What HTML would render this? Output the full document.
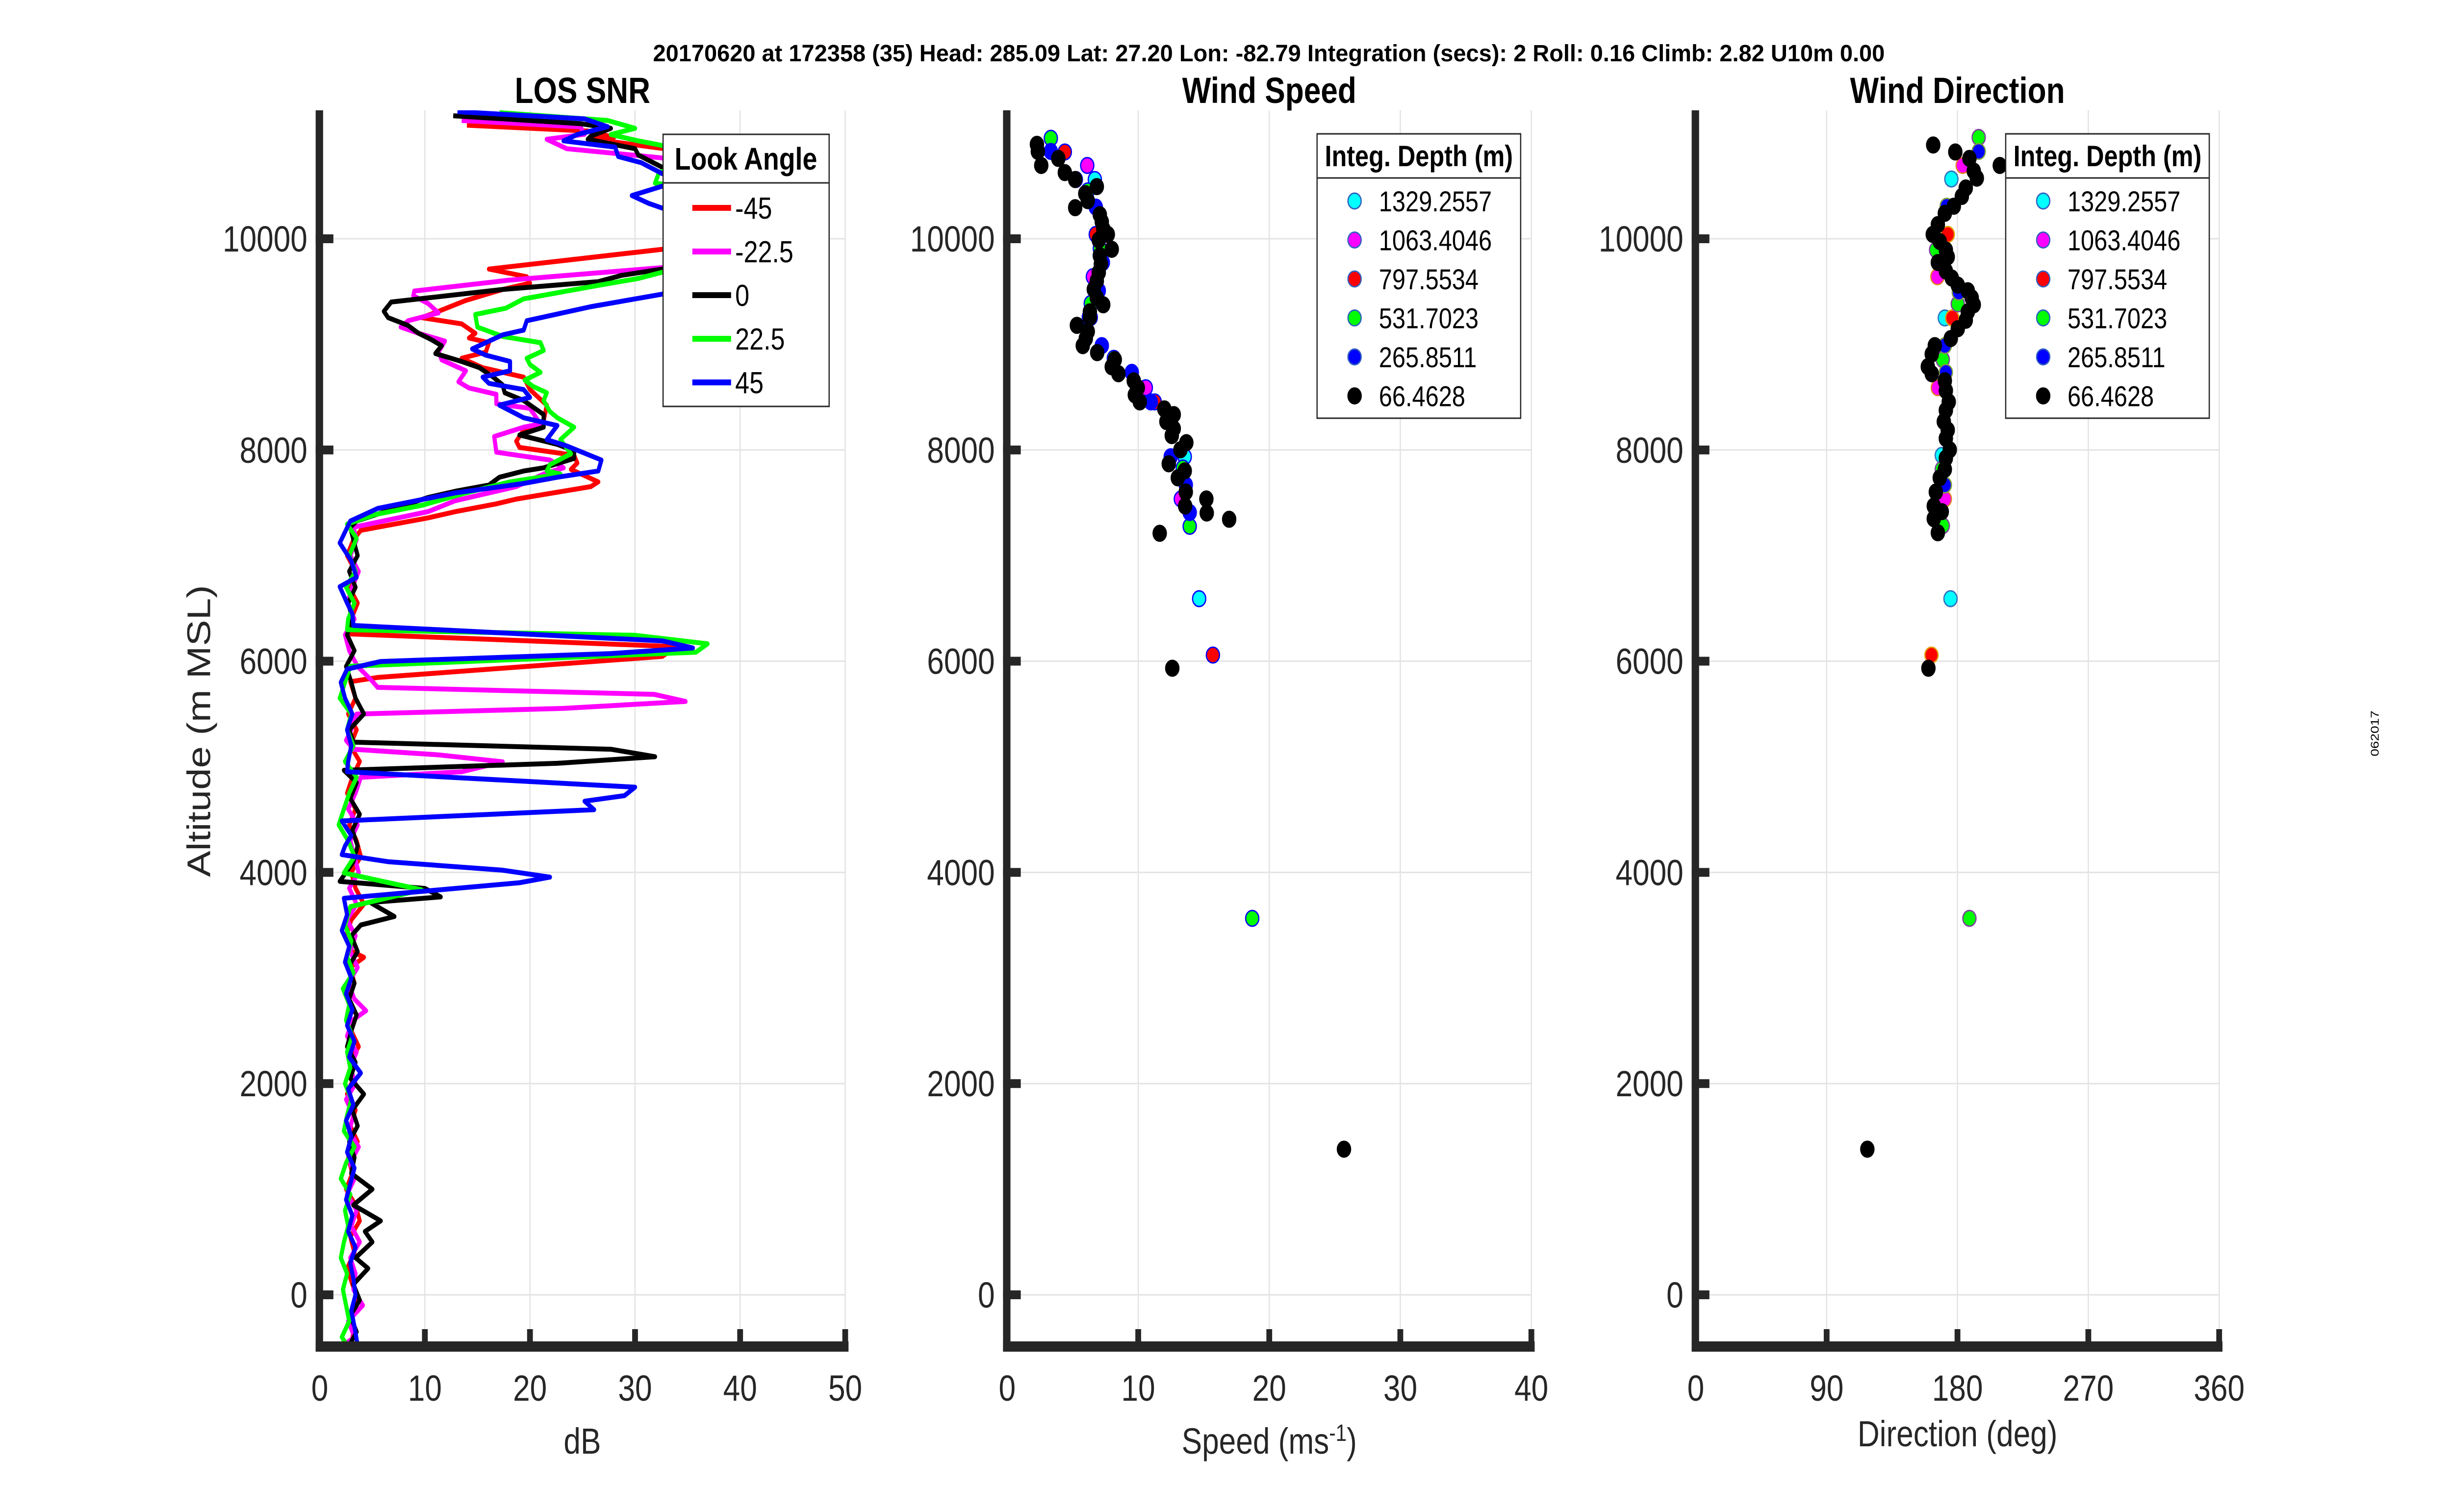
<!DOCTYPE html>
<html><head><meta charset="utf-8"><style>
html,body{margin:0;padding:0;background:#fff;width:100%;height:100%;overflow:hidden;}
svg{display:block;font-family:"Liberation Sans",Arial,sans-serif;width:100vw;height:100vh;}
</style></head><body>
<svg id="fig" viewBox="0 0 5950 3084" preserveAspectRatio="none" xmlns="http://www.w3.org/2000/svg">
<rect width="5950" height="3084" fill="#fff"/>
<text x="3079" y="125" text-anchor="middle" font-size="48" font-weight="bold" textLength="2989" lengthAdjust="spacingAndGlyphs">20170620 at 172358 (35)  Head: 285.09  Lat: 27.20  Lon: -82.79  Integration (secs): 2  Roll: 0.16  Climb: 2.82  U10m 0.00</text>
<text x="5772" y="1496" font-size="28" text-anchor="middle" transform="rotate(-90 5772 1496)">062017</text>
</svg>
<script>
// ---------- SNR data (altitude m, dB) ----------
const redAlt=[11075,11020,10960,10945,10850,10600,10100,9900,9713,9640,9580,9520,9416,9313,9253,9194,9105,9060,9016,8927,8868,8779,8690,8572,8424,8276,8187,8083,8024,7950,7876,7816,7698,7653,7535,7490,7416,7357,7239,7150,7000,6850,6700,6550,6400,6258,6138,6045,5846,5806,5650,5500,5350,5200,5050,4900,4750,4600,4450,4300,4150,4000,3850,3700,3550,3400,3250,3196,3100,2950,2800,2650,2500,2350,2200,2050,1900,1750,1600,1450,1300,1150,1000,850,700,550,400,250,100,-50,-200,-350,-480];
const redDb=[14.0,25.5,28,25.8,33,40,40,32.6,16.1,19.7,20,17.4,13.9,11.3,9.7,13.5,14.8,14.2,16.1,15.8,13.5,15.5,19.4,20,21.6,21.3,19.4,18.7,19,24.2,24.5,23.9,26.5,25.8,18.7,16.8,12.9,10.3,3.9,3.2,2.6,3.4,2.8,3.6,3.0,2.9,33.9,32.6,5.5,2.9,3.4,2.7,3.5,2.9,3.8,3.1,2.6,3.4,2.8,3.5,3.9,3.0,3.4,4.2,3.0,2.5,3.1,4.2,2.9,3.3,2.6,3.5,3.0,3.7,2.8,3.2,2.6,3.4,2.9,3.6,2.7,3.1,2.5,3.4,3.8,2.9,3.3,2.6,3.1,3.6,2.8,3.2,3.0];
const magAlt=[11120,11060,10990,10942,10853,10765,10500,9800,9727,9609,9505,9461,9387,9298,9224,9164,9105,9031,8927,8853,8750,8646,8587,8527,8438,8394,8246,8216,8127,7979,7905,7831,7772,7653,7520,7416,7268,7150,7000,6850,6700,6550,6400,6250,6100,5950,5832,5752,5686,5619,5553,5499,5350,5250,5166,5113,5047,4953,4900,4750,4600,4450,4300,4150,4000,3850,3700,3550,3400,3250,3100,2950,2800,2690,2600,2450,2300,2150,2000,1850,1700,1550,1400,1250,1100,950,800,650,500,350,200,50,-100,-250,-400,-480];
const magDb=[13.5,24.8,25.2,21.6,23.5,32.6,40,40,32.6,18.1,9.0,8.9,10.3,11.3,8.4,7.7,9.4,11.9,11.3,11.6,13.9,13.2,14.2,16.8,16.8,20,21,19.4,16.6,16.8,21.9,23.2,21.3,18.7,12.9,10.3,3.2,3.5,2.9,3.7,3.1,2.6,3.3,2.4,2.8,3.6,4.8,5.5,31.8,34.8,23.2,3.5,3.0,2.5,3.2,11.3,17.4,13.5,3.9,3.4,2.7,3.6,2.9,3.3,3.7,2.8,3.5,2.6,3.4,2.9,3.6,2.7,3.3,4.4,3.1,2.6,3.5,2.9,3.4,2.5,3.2,2.8,3.7,2.9,3.3,2.6,3.5,3.0,3.8,2.9,3.4,3.2,4.1,2.7,3.3,2.2];
const blkAlt=[11165,11090,11046,10972,10942,10853,10794,10676,10400,9800,9713,9653,9594,9520,9401,9313,9253,9179,9105,9046,8987,8913,8838,8779,8690,8616,8542,8468,8335,8216,8142,8053,7994,7920,7831,7801,7742,7668,7609,7550,7327,7268,7150,7000,6850,6700,6550,6400,6250,6100,5950,5800,5650,5500,5350,5233,5166,5095,5033,4967,4850,4700,4550,4400,4250,4100,3915,3848,3768,3715,3582,3502,3400,3250,3100,2950,2800,2650,2500,2350,2200,2050,1900,1750,1600,1450,1300,1150,1000,850,700,600,500,350,250,100,-50,-200,-350,-480];
const blkDb=[12.7,24.8,27.7,25.8,25.5,30,30.3,32.6,40,40,32.6,28.7,26.5,17.4,6.8,6.1,6.5,8.4,9.4,10.6,11.6,11,13.5,15.2,16.5,17.4,17.6,19.4,21.3,21.3,19,22.6,24.2,24.2,21.3,19.4,17.1,16.1,12.9,10.3,3.5,2.9,3.2,3.6,2.8,3.4,2.7,3.1,2.6,3.3,2.5,3.0,3.4,4.2,2.8,3.2,27.7,31.9,22.6,2.3,3.5,2.9,3.8,3.1,3.6,3.2,1.9,10,11.5,4.8,7.1,3.9,3.0,3.6,2.7,3.3,2.8,3.5,3.0,2.6,3.4,2.9,4.2,3.1,3.6,2.8,3.3,3.0,5.0,3.2,5.8,4.3,5.0,3.4,4.6,3.2,3.8,2.9,3.5,2.8];
const grnAlt=[11194,11120,11046,10987,10927,10883,10750,10631,10527,10450,10300,9800,9683,9624,9564,9431,9342,9283,9164,9075,9016,8942,8868,8809,8735,8661,8601,8542,8468,8364,8305,8216,8098,7964,7861,7801,7772,7698,7594,7476,7387,7298,7164,7000,6850,6700,6550,6400,6298,6245,6165,6085,5952,5800,5650,5500,5350,5200,5050,4900,4750,4600,4450,4300,4150,3995,3835,3675,3500,3350,3200,3050,2900,2750,2600,2450,2300,2150,2000,1850,1700,1550,1400,1250,1100,950,800,650,500,350,200,50,-100,-250,-400,-480];
const grnDb=[17.1,27.4,30,27.7,30.3,32.6,38,32.3,31.9,38,40,40,32.6,30.3,26.8,19.4,17.7,14.8,15,17.4,21,21.3,19.7,20,21,19.5,20.3,21.6,21.3,21.9,22.6,24.2,22.9,23.9,21.9,21.6,22.9,18.1,13.9,9.7,5.2,2.6,3.5,2.8,3.4,2.5,3.3,2.7,2.6,30,36.9,35.8,2.9,2.4,1.9,3.0,2.6,3.2,2.4,3.5,2.8,2.3,1.8,2.7,3.3,2.3,9.7,2.9,2.4,3.0,2.6,3.2,2.2,2.8,2.5,3.1,2.6,2.9,2.4,3.0,2.6,2.3,3.3,2.5,2.0,2.9,2.4,2.7,2.3,2.0,2.6,2.2,2.5,2.8,2.1,2.6];
const bluAlt=[11203,11135,11061,10987,10927,10868,10779,10720,10616,10550,10498,10409,10335,10290,10100,9800,9476,9357,9224,9135,9090,8957,8898,8838,8750,8690,8631,8572,8498,8424,8305,8231,8098,8038,7905,7801,7742,7683,7594,7446,7327,7120,6950,6794,6705,6550,6450,6338,6192,6125,6072,5997,5925,5800,5650,5500,5350,5200,5050,4953,4807,4727,4674,4594,4487,4350,4250,4168,4101,4021,3955,3902,3755,3600,3450,3300,3150,3000,2850,2700,2550,2400,2250,2100,1950,1800,1650,1500,1350,1200,1050,900,750,600,450,300,150,0,-150,-300,-480];
const bluDb=[13.1,25.2,27.4,24.5,23.2,28.1,28.4,30.6,32.6,36,32.6,29.7,31.3,32.6,40,40,32.6,25.8,19.7,19.4,17.4,14.5,15.8,18.1,18.1,15.5,16.1,19.4,20,17.1,19.4,22.6,21.6,23.5,26.8,26.5,22.6,19.4,12.9,5.5,2.9,1.9,3.0,3.5,1.9,2.6,3.1,3.2,32.6,35.5,27.7,5.8,2.6,2.0,2.4,3.1,2.6,3.0,2.7,2.6,30,29,25.2,26.1,2.1,3.0,2.4,2.1,6.5,17.4,21.9,19,2.3,2.6,2.1,2.8,2.4,3.0,2.5,3.1,2.6,3.3,2.8,3.9,2.7,3.2,2.5,3.0,2.6,3.3,2.9,2.5,3.1,2.7,3.4,2.9,3.2,3.4,3.0,3.3,3.6];
const snrLegendLabels=["-45","-22.5","0","22.5","45"];
const snrTicks=[0,10,20,30,40,50];
const altTicks=[0,2000,4000,6000,8000,10000];

// ---------- Wind data (speed m/s, direction deg, altitude m) ----------
const depthLabels=["1329.2557","1063.4046","797.5534","531.7023","265.8511","66.4628"];
const cyanAlt=[10561,6592,7936];
const cyanSpd=[6.69,14.65,13.55];
const cyanDirAlt=[10566,9250,7949,6592];
const cyanDir=[175.8,171.3,169.2,175.2];
const magWAlt=[10694,9641,8589,7536];
const magSpd=[6.11,6.54,10.58,13.25];
const magDir=[183.6,166.2,166.5,171.3];
const redWAlt=[10822,10041,9255,8455,6058];
const redSpd=[4.40,6.76,6.38,11.26,15.7];
const redDirAlt=[10041,9250,7669,6058];
const redDir=[173.3,176.4,171.3,162.1];
const grnWAlt=[10952,10454,9908,9388,8868,7829,7277,3565];
const grnSpd=[3.33,6.15,7.07,6.38,8.14,13.40,13.93,18.7];
const grnDirAlt=[10960,9894,9383,8855,7816,7283,3565];
const grnDir=[194.6,165.3,180.2,169.9,169.2,169.9,188.2];
const bluWAlt=[10827,10561,10300,9775,9508,9255,8988,8735,8455,7936,7669,7408];
const bluSpd=[3.33,5.24,6.76,7.30,6.99,6.23,7.22,9.51,10.96,12.48,13.63,13.93];
const bluDirAlt=[10827,10308,9494,8988,8735,7669];
const bluDir=[194.6,172.6,180.9,171.3,172,171.3];
const blkSpdAlt=[10894,10827,10694,10761,10627,10561,10427,10361,10494,10294,10228,10161,10094,10041,9988,9900,9841,9761,9681,9601,9521,9441,9375,9308,9255,9180,9122,9055,8988,8922,8855,8788,8722,8655,8589,8522,8455,8389,8335,8269,8202,8136,8069,8002,7869,7802,7736,7602,7469,7536,7403,7344,7211,5933,1379];
const blkSpd=[2.27,2.34,2.60,3.90,4.40,5.19,5.96,6.15,6.84,5.19,7.07,7.22,7.33,7.68,6.99,7.98,7.07,7.15,6.99,6.84,6.61,6.84,7.33,6.31,6.31,5.32,6.15,6.00,5.77,6.87,8.21,7.98,8.49,9.66,9.97,9.74,10.12,11.99,12.71,12.15,12.71,12.56,13.67,13.22,12.33,13.55,13.02,13.63,13.58,15.20,15.23,16.94,11.64,12.6,25.7];
const blkDirAlt=[10888,10822,10761,10694,10641,10574,10481,10401,10308,10241,10134,10041,9974,9894,9828,9775,9695,9628,9561,9508,9441,9375,9308,9228,9148,9055,8988,8908,8789,8722,8655,8562,8455,8375,8269,8189,8109,8002,7922,7816,7736,7602,7469,7416,7349,7216,5933,1379];
const blkDir=[163.3,178.5,188.2,209.1,191.2,193.3,185.7,183,177.5,171.3,166.5,163,167.8,172,173.3,166.5,172,176.1,180.2,187.1,189.8,191.2,187.1,185.7,180.2,175.4,164.4,162.3,159.6,162.3,171.3,172,174,172,170.6,173.3,172,174.7,172,171.3,167.8,165.1,163.7,169.2,163.7,166.5,160,118];
const speedTicks=[0,10,20,30,40];
const dirTicks=[0,90,180,270,360];

// ---------- Layout ----------
const NS="http://www.w3.org/2000/svg";
const svg=document.getElementById('fig');
const Y0=2641, YS=0.2154, YTOP=225, YBOT=2747;
function yPix(a){return Y0-a*YS;}
function mk(tag,attrs,parent){const e=document.createElementNS(NS,tag);for(const k in attrs)e.setAttribute(k,attrs[k]);(parent||svg).appendChild(e);return e;}
const panels=[
 {x0:776,x1:2051,max:50,ticks:snrTicks,title:"LOS SNR",name:"snr"},
 {x0:2444,x1:3716,max:40,ticks:speedTicks,title:"Wind Speed",name:"speed"},
 {x0:4115,x1:5385,max:360,ticks:dirTicks,title:"Wind Direction",name:"direction"}];
function xPix(p,v){return p.x0+(v/p.max)*(p.x1-p.x0);}

panels.forEach((p,i)=>{
  const g=mk('g',{});
  
  
  const cp=mk('clipPath',{id:'clip'+i},g);
  mk('rect',{x:p.x0,y:YTOP,width:p.x1-p.x0,height:YBOT-YTOP},cp);
  p.ticks.forEach(t=>{
    const gl=mk('line',{x1:xPix(p,t),x2:xPix(p,t),y1:YTOP,y2:YBOT,stroke:'#e3e3e3','stroke-width':3},g);
    
    
  });
  altTicks.forEach(a=>{
    const gl=mk('line',{x1:p.x0,x2:p.x1,y1:yPix(a),y2:yPix(a),stroke:'#e3e3e3','stroke-width':3},g);
    
    
  });
  p.g=g;
  p.plot=mk('g',{'clip-path':'url(#clip'+i+')'},g);
  const tt=mk('text',{x:(p.x0+p.x1)/2,y:210,'text-anchor':'middle','font-size':74,'font-weight':'bold'},g);
  tt.textContent=p.title;
  
  
});

const snrSeries=[[redAlt,redDb,'#ff0000','-45'],[magAlt,magDb,'#ff00ff','-22.5'],[blkAlt,blkDb,'#000000','0'],[grnAlt,grnDb,'#00ff00','22.5'],[bluAlt,bluDb,'#0000ff','45']];
snrSeries.forEach(s=>{
  const pts=s[0].map((a,j)=>xPix(panels[0],s[1][j]).toFixed(1)+','+yPix(a).toFixed(1)).join(' ');
  const pl=mk('polyline',{points:pts,fill:'none',stroke:s[2],'stroke-width':10,'stroke-linejoin':'round'},panels[0].plot);
  
  
});

function scatter(p,alts,vals,fill,edge,nm){
  alts.forEach((a,j)=>{
    const c=mk('circle',{cx:xPix(p,vals[j]),cy:yPix(a),r:16,fill:fill,stroke:edge,'stroke-width':3},p.plot);
    
    
  });
}
const P2=panels[1],P3=panels[2];
scatter(P2,cyanAlt,cyanSpd,'#00ffff','#0000ff','speed-1329');
scatter(P2,magWAlt,magSpd,'#ff00ff','#0000ff','speed-1063');
scatter(P2,redWAlt,redSpd,'#ff0000','#0000ff','speed-797');
scatter(P2,grnWAlt,grnSpd,'#00ff00','#0000ff','speed-531');
scatter(P2,bluWAlt,bluSpd,'#0000ff','#0000ff','speed-265');
scatter(P2,blkSpdAlt,blkSpd,'#000000','#000000','speed-66');
scatter(P3,cyanDirAlt,cyanDir,'#00ffff','#3070c0','dir-1329');
scatter(P3,magWAlt,magDir,'#ff00ff','#e08020','dir-1063');
scatter(P3,redDirAlt,redDir,'#ff0000','#e0a000','dir-797');
scatter(P3,grnDirAlt,grnDir,'#00ff00','#8040a0','dir-531');
scatter(P3,bluDirAlt,bluDir,'#0000ff','#80a040','dir-265');
scatter(P3,blkDirAlt,blkDir,'#000000','#000000','dir-66');

panels.forEach(p=>{
  const g=p.g;
  const la=mk('rect',{x:p.x0-10,y:YTOP,width:18,height:2757-YTOP,fill:'#262626'},g);
  
  
  const ba=mk('rect',{x:p.x0-10,y:2736,width:p.x1-p.x0+18,height:21,fill:'#262626'},g);
  
  
  p.ticks.forEach(t=>{
    const x=xPix(p,t);
    const tk=mk('rect',{x:x-7,y:2711,width:14,height:26,fill:'#262626'},g);
    
    
    const tl=mk('text',{x:x,y:2857,'text-anchor':'middle','font-size':74,fill:'#262626'},g);
    tl.textContent=String(t);
    
    
  });
  altTicks.forEach(a=>{
    const y=yPix(a);
    const tk=mk('rect',{x:p.x0-10,y:y-9,width:43,height:18,fill:'#262626'},g);
    
    
    const tl=mk('text',{x:p.x0-30,y:y+26,'text-anchor':'end','font-size':74,fill:'#262626'},g);
    tl.textContent=String(a);
    
    
  });
});

const yl=mk('text',{x:0,y:0,'text-anchor':'middle','font-size':80,fill:'#262626',transform:'translate(510,1491) rotate(-90)'});
yl.textContent='Altitude (m MSL)';


const x1l=mk('text',{x:1413,y:2965,'text-anchor':'middle','font-size':74,fill:'#262626'});
x1l.textContent='dB';


const x2l=mk('text',{x:3080,y:2965,'text-anchor':'middle','font-size':74,fill:'#262626'});
x2l.innerHTML='Speed (ms<tspan baseline-shift="super" font-size="48">-1</tspan>)';


const x3l=mk('text',{x:4750,y:2950,'text-anchor':'middle','font-size':74,fill:'#262626'});
x3l.textContent='Direction (deg)';



const lg=mk('g',{});


mk('rect',{x:1609,y:274,width:403,height:555,fill:'#fff',stroke:'#262626','stroke-width':3},lg);
mk('line',{x1:1609,x2:2012,y1:373,y2:373,stroke:'#262626','stroke-width':3},lg);
const lgt=mk('text',{x:1810,y:346,'text-anchor':'middle','font-size':64,'font-weight':'bold'},lg);
lgt.textContent='Look Angle';


snrSeries.forEach((s,j)=>{
  const y=424+j*89;
  const ln=mk('line',{x1:1680,x2:1774,y1:y,y2:y,stroke:s[2],'stroke-width':12},lg);
  
  
  const tx=mk('text',{x:1784,y:y+22,'font-size':62},lg);
  tx.textContent=snrLegendLabels[j];
  
  
});

const depthFills=['#00ffff','#ff00ff','#ff0000','#00ff00','#0000ff','#000000'];
[[3196,'speed'],[4867,'direction']].forEach(L=>{
  const x0=L[0];
  const g=mk('g',{});
  
  
  mk('rect',{x:x0,y:273,width:494,height:580,fill:'#fff',stroke:'#262626','stroke-width':3},g);
  mk('line',{x1:x0,x2:x0+494,y1:363,y2:363,stroke:'#262626','stroke-width':3},g);
  const t=mk('text',{x:x0+247,y:339,'text-anchor':'middle','font-size':60,'font-weight':'bold'},g);
  t.textContent='Integ. Depth (m)';
  
  
  depthLabels.forEach((d,j)=>{
    const y=410+j*79.5;
    const c=mk('circle',{cx:x0+91,cy:y,r:16,fill:depthFills[j],stroke:j===5?'#000':'#3060c0','stroke-width':3},g);
    
    
    const tx=mk('text',{x:x0+150,y:y+21,'font-size':58},g);
    tx.textContent=d;
    
    
  });
});
</script>
</body></html>
